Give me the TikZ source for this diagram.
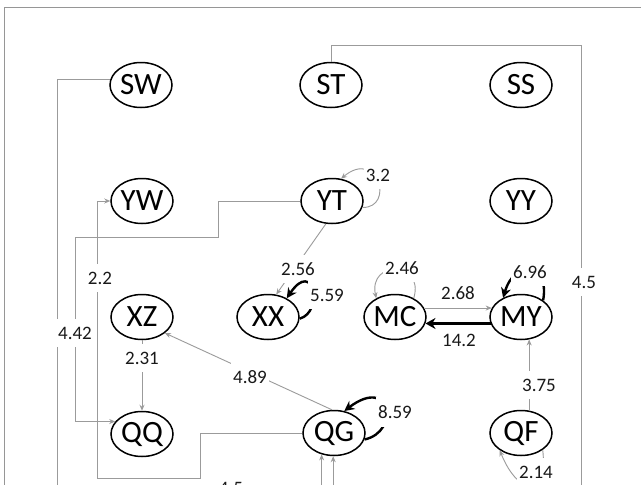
\documentclass[tikz,border=0pt]{standalone}
\usepackage{fontspec}
\setmainfont{Carlito}
\usetikzlibrary{arrows.meta,shapes.geometric}
\definecolor{edgegray}{RGB}{155,155,155}
\definecolor{framegray}{RGB}{150,150,150}
\definecolor{labelink}{RGB}{25,25,25}
\begin{document}
\begin{tikzpicture}[x=1pt,y=-1pt,
  state/.style={ellipse,draw=black,line width=1.5pt,minimum width=62pt,minimum height=45pt,inner sep=0pt,font=\fontsize{31}{31}\selectfont},
  plabel/.style={font=\fontsize{19}{19}\selectfont,text=labelink,inner sep=1pt},
  wlabel/.style={plabel,fill=white,inner xsep=2pt,inner ysep=8pt},
  glink/.style={draw=edgegray,line width=0.9pt},
  garrow/.style={glink,-{Stealth[length=6pt,width=5pt]}},
  bloop/.style={draw=black,line width=2.4pt,-{Stealth[length=10pt,width=10pt]}},
  bthick/.style={draw=black,line width=3.8pt,-{Stealth[length=10pt,width=11pt]}},
]
\useasboundingbox (0,0) rectangle (641,485);
\clip (0,0) rectangle (641,485);
\fill[white] (0,0) rectangle (641,485);
% frame
\draw[framegray,line width=0.9pt] (4,490) -- (4,7) -- (645,7);

% nodes
\node[state] (SW) at (141,85) {SW};
\node[state] (ST) at (331,85) {ST};
\node[state] (SS) at (521,85) {SS};
\node[state] (YW) at (142,201) {YW};
\node[state] (YT) at (332,201) {YT};
\node[state] (YY) at (521,201) {YY};
\node[state] (XZ) at (142,317) {XZ};
\node[state] (XX) at (268,317) {XX};
\node[state] (MC) at (395,317) {MC};
\node[state] (MY) at (521,317) {MY};
\node[state] (QQ) at (142,434) {QQ};
\node[state] (QG) at (334,433) {QG};
\node[state] (QF) at (521,433) {QF};

% free ends and bends
\coordinate (swEnd) at (57,495);
\coordinate (stC) at (581,45);
\coordinate (stEnd) at (581,495);
\coordinate (cA) at (218,237);
\coordinate (cB) at (75,237);
\coordinate (dA) at (200,478);
\coordinate (dB) at (97,478);
\coordinate (qbot) at (0,495);

% SW down the left
\draw[glink] (SW.170) -| (swEnd);
% ST up, right and down
\draw[glink] (ST.north) |- (stC) -- (stEnd);
\node[wlabel] (l45) at (584,282) {4.5};
% YT -> QQ
\draw[garrow] (YT.west) -| (cA) -- (cB) |- (QQ.155);
\node[wlabel] (l442) at (75,333) {4.42};
% QG -> YW
\draw[garrow] (QG.west) -| (dA) -- (dB) |- (YW.west);
\node[wlabel] (l22) at (100,278) {2.2};
% XZ -> QQ
\draw[garrow] (XZ.south) -- (QQ.north);
\node[wlabel] (l231) at (142,358) {2.31};
% QG -> XZ
\draw[garrow] (QG.95) -- (XZ.-35);
\node[wlabel] (l489) at (250,377) {4.89};
% YT -> XX
\draw[garrow] (YT.-105) -- (XX.70);
\node[wlabel] (l256) at (298,269) {2.56};
% YT self loop
\draw[garrow] (YT.-12) .. controls (395,208) and (378,148) .. (YT.68);
\node[wlabel] (l32) at (378,175) {3.2};
% XX self loop
\draw[bloop] (XX.-3) .. controls (324,312) and (314,258) .. (XX.45);
\node[wlabel] (l559) at (327,295) {5.59};
% MC self loop
\draw[garrow] (MC.45) .. controls (425,260) and (368,260) .. (MC.135);
\node[wlabel] (l246) at (402,268) {2.46};
% MC -> MY
\draw[garrow] (MC.17) -- (MY.163);
\node[plabel] (l268) at (458,293) {2.68};
% MY -> MC
\draw[bthick] (MY.192) -- (MC.-12);
\node[plabel] (l142) at (459,340) {14.2};
% MY self loop
\draw[bloop] (MY.37) .. controls (550,262) and (515,258) .. (MY.133);
\node[wlabel] (l696) at (530,272) {6.96};
% QF -> MY
\draw[garrow] (QF.70) -- (MY.-70);
\node[wlabel] (l375) at (539,385) {3.75};
% QF self loop
\draw[garrow] (QF.-38) .. controls (548,492) and (520,500) .. (QF.-141);
\node[wlabel] (l214) at (536,472) {2.14};
% QG self loop
\draw[bloop] (QG.-12) .. controls (400,432) and (392,375) .. (QG.65);
\node[wlabel] (l859) at (395,412) {8.59};
% arrows from below into QG
\draw[garrow] (QG.240 |- qbot) -- (QG.240);
\draw[garrow] (QG.268 |- qbot) -- (QG.268);
% partly visible label at the bottom edge
\node[plabel] (l45b) at (231,488) {4.5};
\end{tikzpicture}
\end{document}
